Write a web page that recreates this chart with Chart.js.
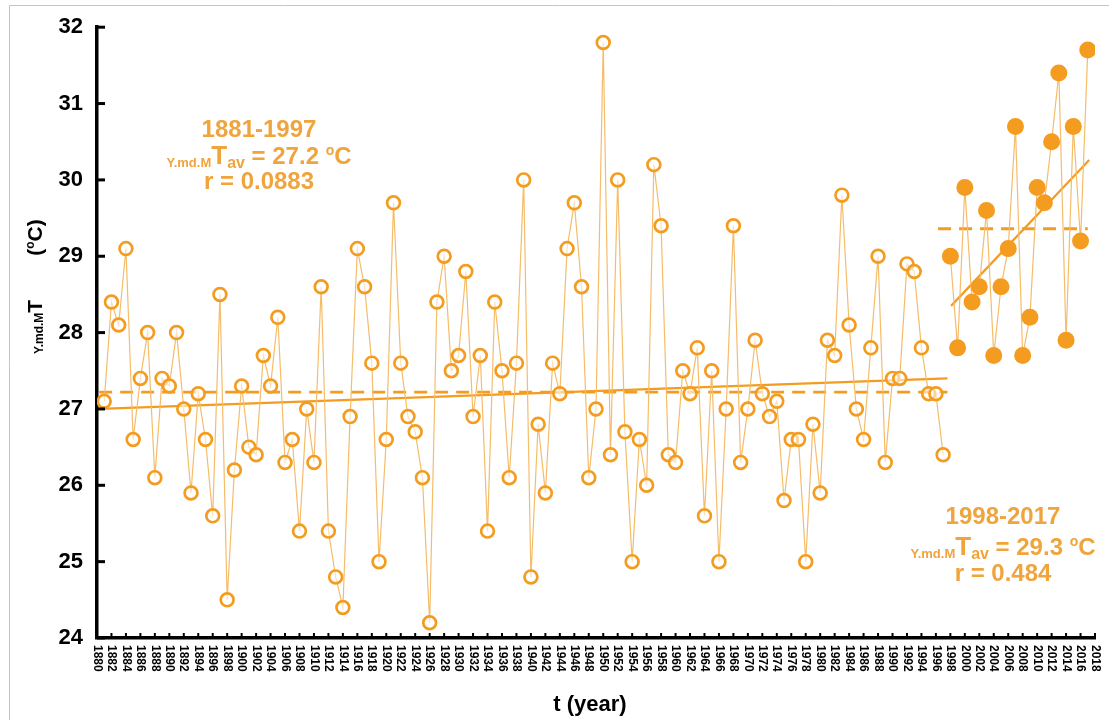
<!DOCTYPE html>
<html><head><meta charset="utf-8">
<script src="https://cdn.jsdelivr.net/npm/chart.js@4.4.1/dist/chart.umd.min.js"></script>
<style>html,body{margin:0;padding:0;background:#fff;overflow:hidden}#wrap{position:relative;width:1109px;height:720px}canvas{display:block}</style>
</head><body><div id="wrap"><canvas id="c" width="1109" height="720"></canvas></div>
<script>
// ---------- data ----------
const yearsA = [1881,1882,1883,1884,1885,1886,1887,1888,1889,1890,1891,1892,1893,1894,1895,1896,1897,1898,1899,1900,
1901,1902,1903,1904,1905,1906,1907,1908,1909,1910,1911,1912,1913,1914,1915,1916,1917,1918,1919,1920,
1921,1922,1923,1924,1925,1926,1927,1928,1929,1930,1931,1932,1933,1934,1935,1936,1937,1938,1939,1940,
1941,1942,1943,1944,1945,1946,1947,1948,1949,1950,1951,1952,1953,1954,1955,1956,1957,1958,1959,1960,
1961,1962,1963,1964,1965,1966,1967,1968,1969,1970,1971,1972,1973,1974,1975,1976,1977,1978,1979,1980,
1981,1982,1983,1984,1985,1986,1987,1988,1989,1990,1991,1992,1993,1994,1995,1996,1997];
const tempsA = [27.1,28.4,28.1,29.1,26.6,27.4,28.0,26.1,27.4,27.3,28.0,27.0,25.9,27.2,26.6,25.6,28.5,24.5,26.2,27.3,
26.5,26.4,27.7,27.3,28.2,26.3,26.6,25.4,27.0,26.3,28.6,25.4,24.8,24.4,26.9,29.1,28.6,27.6,25.0,26.6,
29.7,27.6,26.9,26.7,26.1,24.2,28.4,29.0,27.5,27.7,28.8,26.9,27.7,25.4,28.4,27.5,26.1,27.6,30.0,24.8,
26.8,25.9,27.6,27.2,29.1,29.7,28.6,26.1,27.0,31.8,26.4,30.0,26.7,25.0,26.6,26.0,30.2,29.4,26.4,26.3,
27.5,27.2,27.8,25.6,27.5,25.0,27.0,29.4,26.3,27.0,27.9,27.2,26.9,27.1,25.8,26.6,26.6,25.0,26.8,25.9,
27.9,27.7,29.8,28.1,27.0,26.6,27.8,29.0,26.3,27.4,27.4,28.9,28.8,27.8,27.2,27.2,26.4];
const yearsB = [1998,1999,2000,2001,2002,2003,2004,2005,2006,2007,2008,2009,2010,2011,2012,2013,2014,2015,2016,2017];
const tempsB = [29.0,27.8,29.9,28.4,28.6,29.6,27.7,28.6,29.1,30.7,27.7,28.2,29.9,29.7,30.5,31.4,27.9,30.7,29.2,31.7];
// trend and mean lines (end points)
const trendAX = [1880.4, 1997.6], trendAY = [27.0, 27.4];
const meanAX  = [1880.3, 1997.6], meanAY  = [27.22, 27.22];
const trendBX = [1998.1, 2017.2], trendBY = [28.35, 30.26];
const meanBX  = [1996.3, 2017.0], meanBY  = [29.36, 29.36];
// tick labels
const xTickLabels = ['1880','1882','1884','1886','1888','1890','1892','1894','1896','1898','1900','1902','1904','1906','1908',
'1910','1912','1914','1916','1918','1920','1922','1924','1926','1928','1930','1932','1934','1936','1938','1940','1942','1944',
'1946','1948','1950','1952','1954','1956','1958','1960','1962','1964','1966','1968','1970','1972','1974','1976','1978','1980',
'1982','1984','1986','1988','1990','1992','1994','1996','1998','2000','2002','2004','2006','2008','2010','2012','2014','2016','2018'];
const yTickValues = [24,25,26,27,28,29,30,31,32];
const annotA = {period:'1881-1997', mean:'27.2', r:'r = 0.0883'};
const annotB = {period:'1998-2017', mean:'29.3', r:'r = 0.484'};

// ---------- styles ----------
const FONT = '"Liberation Sans", Arial, sans-serif';
const ORANGE = '#F39C1F';
const LINE_ORANGE = '#F5BC6A';
const TEXT_ORANGE = '#F0A43C';

function pts(xs, ys){ return xs.map((v,i)=>({x:v, y:ys[i]})); }

function rich(ctx, segs, x, y, align, color){
  let total = 0;
  for (const g of segs){
    ctx.font = 'bold ' + g.s + 'px ' + FONT;
    g._w = (g.gap != null) ? g.gap : ctx.measureText(g.t).width;
    total += g._w;
  }
  let cx = align === 'center' ? x - total/2 : x;
  ctx.fillStyle = color; ctx.textAlign = 'left'; ctx.textBaseline = 'alphabetic';
  for (const g of segs){
    if (g.t){ ctx.font = 'bold ' + g.s + 'px ' + FONT; ctx.fillText(g.t, cx, y + (g.dy || 0)); }
    cx += g._w;
  }
}

function drawAnnot(ctx, a, cx, y0, dy){
  rich(ctx, [{t:a.period, s:24}], cx, y0, 'center', TEXT_ORANGE);
  rich(ctx, [{t:'Y.md.M', s:13, dy:3},{t:'T', s:26},{t:'av', s:16, dy:4},{t:' = ' + a.mean + ' ', s:24},{t:'o', s:14, dy:-9},{t:'C', s:24}], cx, y0 + dy[0], 'center', TEXT_ORANGE);
  rich(ctx, [{t:a.r, s:24}], cx, y0 + dy[1], 'center', TEXT_ORANGE);
}

const decor = {
  id: 'decor',
  beforeDraw(chart){
    const ctx = chart.ctx;
    ctx.save();
    ctx.fillStyle = '#fff'; ctx.fillRect(0, 0, chart.width, chart.height);
    ctx.strokeStyle = '#c4c4c4'; ctx.lineWidth = 1;
    ctx.beginPath(); ctx.moveTo(9.5, chart.height); ctx.lineTo(9.5, 5.5); ctx.lineTo(chart.width, 5.5); ctx.stroke();
    ctx.restore();
  },
  afterDraw(chart){
    const {ctx, chartArea: ca, scales: {x, y}} = chart;
    ctx.save();
    // inward ticks
    ctx.strokeStyle = '#000'; ctx.lineWidth = 3;
    for (const v of yTickValues){
      const py = y.getPixelForValue(v);
      ctx.beginPath(); ctx.moveTo(ca.left, py); ctx.lineTo(ca.left + 8, py); ctx.stroke();
    }
    ctx.lineWidth = 2;
    for (const lab of xTickLabels){
      const px = x.getPixelForValue(+lab);
      ctx.beginPath(); ctx.moveTo(px, ca.bottom); ctx.lineTo(px, ca.bottom - 5); ctx.stroke();
    }
    // x tick labels, rotated clockwise
    ctx.fillStyle = '#000'; ctx.font = 'bold 12px ' + FONT;
    ctx.textAlign = 'left'; ctx.textBaseline = 'middle';
    for (const lab of xTickLabels){
      const px = x.getPixelForValue(+lab);
      ctx.save(); ctx.translate(px, ca.bottom + 7); ctx.rotate(Math.PI/2); ctx.fillText(lab, 0, 0); ctx.restore();
    }
    // x title
    ctx.font = 'bold 22px ' + FONT; ctx.textAlign = 'center'; ctx.textBaseline = 'alphabetic';
    ctx.fillText('t (year)', 590, 711);
    // y title
    ctx.save(); ctx.translate(42, 354); ctx.rotate(-Math.PI/2);
    rich(ctx, [{t:'Y.md.M', s:12, dy:1},{t:'T', s:21},{gap:44, s:21},{t:'(', s:21},{t:'o', s:12, dy:-8},{t:'C)', s:21}], 0, 0, 'left', '#000');
    ctx.restore();
    // annotations
    drawAnnot(ctx, annotA, 259, 137, [27, 52]);
    drawAnnot(ctx, annotB, 1003, 524, [31, 57]);
    ctx.restore();
  }
};

new Chart(document.getElementById('c'), {
  type: 'line',
  data: { datasets: [
    { data: pts(yearsA, tempsA), borderColor: LINE_ORANGE, borderWidth: 1.2, pointRadius: 6.4, pointBorderWidth: 2.7,
      pointBorderColor: ORANGE, pointBackgroundColor: 'rgba(255,255,255,0.55)', tension: 0 },
    { data: pts(yearsB, tempsB), borderColor: LINE_ORANGE, borderWidth: 1.2, pointRadius: 8.5, pointBorderWidth: 0,
      pointBackgroundColor: ORANGE, tension: 0 },
    { data: pts(trendAX, trendAY), borderColor: ORANGE, borderWidth: 2.2, pointRadius: 0 },
    { data: pts(meanAX, meanAY), borderColor: ORANGE, borderWidth: 2.8, borderDash: [13, 8], pointRadius: 0 },
    { data: pts(trendBX, trendBY), borderColor: ORANGE, borderWidth: 2.2, pointRadius: 0 },
    { data: pts(meanBX, meanBY), borderColor: ORANGE, borderWidth: 2.8, borderDash: [13, 8], pointRadius: 0 }
  ]},
  options: {
    responsive: false, animation: false,
    layout: { padding: { left: 10, top: 23, right: 14, bottom: 0 } },
    plugins: { legend: { display: false }, tooltip: { enabled: false } },
    scales: {
      x: { type: 'linear', min: 1880, max: 2018,
           grid: { display: false, drawTicks: false },
           border: { display: true, color: '#000', width: 3.5 },
           ticks: { display: false },
           afterFit(s){ s.height = 82; } },
      y: { type: 'linear', min: 24, max: 32,
           grid: { display: false, drawTicks: false },
           border: { display: true, color: '#000', width: 3.5 },
           ticks: { stepSize: 1, color: '#000', padding: 14, font: { family: FONT, size: 22, weight: 'bold' } },
           afterFit(s){ s.width = 87; } }
    }
  },
  plugins: [decor]
});
</script>
</body></html>
